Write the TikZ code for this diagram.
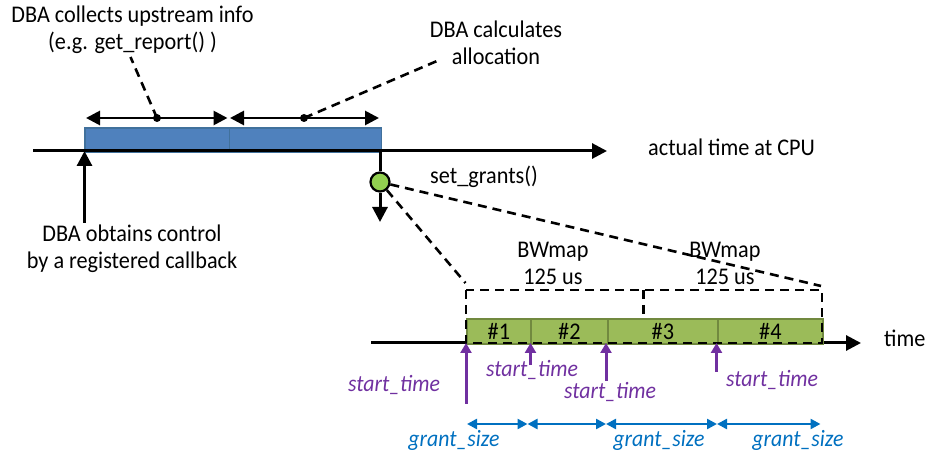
\documentclass[tikz,border=0pt]{standalone}
\usepackage{fontspec}
\setmainfont{Carlito}[FakeStretch=0.93]
\usetikzlibrary{arrows.meta}
\definecolor{barblue}{HTML}{4F81BD}
\definecolor{barblueedge}{HTML}{41719C}
\definecolor{bargreen}{HTML}{9BBB59}
\definecolor{bargreenedge}{HTML}{71893F}
\definecolor{dotgreen}{HTML}{92D050}
\definecolor{stpurple}{HTML}{7030A0}
\definecolor{gsblue}{HTML}{0070C0}
\begin{document}
\begin{tikzpicture}[x=1bp,y=-1bp,
  lbl/.style={font=\fontsize{24}{27}\selectfont, inner sep=0pt, align=center},
  stlbl/.style={font=\fontsize{23.5}{26}\selectfont\itshape, text=stpurple, inner sep=0pt},
  gslbl/.style={font=\fontsize{23.5}{26}\selectfont\itshape, text=gsblue, inner sep=0pt},
  axis/.style={line width=3bp, -{Triangle[length=15bp,width=15bp]}},
  dbl/.style={line width=2.8bp, {Triangle[length=14bp,width=14bp]}-{Triangle[length=14bp,width=14bp]}},
  leader/.style={line width=2.6bp, dash pattern=on 9bp off 6bp},
  blueseg/.style={draw=barblueedge, fill=barblue, line width=1.8bp, inner sep=0pt, anchor=north west, minimum height=24bp},
  greenseg/.style={draw=bargreenedge, fill=bargreen, line width=1.8bp, inner sep=0pt, anchor=north west, minimum height=24.5bp, font=\fontsize{24}{26}\selectfont},
  bdot/.style={circle, fill=black, inner sep=0pt, minimum size=8bp},
  gdot/.style={circle, draw=black, fill=dotgreen, line width=2.2bp, inner sep=0pt, minimum size=19bp},
  starr/.style={line width=3bp, draw=stpurple, -{Triangle[length=10bp,width=11bp]}},
  gsarr/.style={line width=2.4bp, draw=gsblue, {Triangle[length=10bp,width=10bp]}-{Triangle[length=10bp,width=10bp]}},
]
\useasboundingbox (0,0) rectangle (925,454);

% ---- top timeline ----
\coordinate (t1s) at (33,151);
\coordinate (t1e) at (607,151);
\node[blueseg, minimum width=144.5bp] (b1) at (84,127) {};
\node[blueseg, minimum width=152bp] (b2) at (228.5,127) {};
\draw[axis] (t1s) -- (t1e);

% double arrows above the bar
\coordinate (a1s) at (86,118);  \coordinate (a1e) at (227.5,118);
\coordinate (a2s) at (230,118); \coordinate (a2e) at (379,118);
\draw[dbl] (a1s) -- (a1e);
\draw[dbl] (a2s) -- (a2e);
\node[bdot] (d1) at (157,118) {};
\node[bdot] (d2) at (304,118) {};

% texts top
\node[lbl] (collect) at (132.5,30) {DBA collects upstream info\\(e.g. get\_report() )};
\node[lbl] (calc) at (496,42.5) {DBA calculates\\allocation};
\coordinate (l1) at (130.5,57);
\coordinate (l2) at (437,61);
\draw[leader] (d1.center) -- (l1);
\draw[leader] (d2.center) -- (l2);

\node[lbl, anchor=west] (actual) at (648,147) {actual time at CPU};

% control arrow
\coordinate (ctrl) at (84.5,223);
\coordinate (ctrltip) at (84.5,151);
\draw[axis] (ctrl) -- (ctrltip);
\node[lbl] (obtain) at (132,249) {DBA obtains control\\by a registered callback};

% set_grants
\coordinate (barend) at (380,151);
\node[gdot] (sg) at (380,182) {};
\draw[line width=3bp] (barend) -- (sg.north);
\coordinate (sgend) at (380,222);
\draw[axis] (sg.south) -- (sgend);
\node[lbl, anchor=west] (sgtxt) at (430,177) {set\_grants()};

% ---- bottom timeline ----
\coordinate (t2s) at (371,343);
\coordinate (t2e) at (861,343);
\draw[axis] (t2s) -- (t2e);
\node[greenseg, minimum width=64bp] (g1) at (466,318.5) {\#1};
\node[greenseg, minimum width=77bp] (g2) at (530,318.5) {\#2};
\node[greenseg, minimum width=110bp] (g3) at (607,318.5) {\#3};
\node[greenseg, minimum width=105bp] (g4) at (717,318.5) {\#4};
\node[lbl, anchor=west] (time) at (884,338) {time};

% zoom leaders
\coordinate (z1) at (465.5,283);
\coordinate (z2) at (821,286);
\draw[leader] (sg) -- (z1);
\draw[leader] (sg) -- (z2);

% BWmap brackets
\coordinate (bl) at (466,290);
\coordinate (bm) at (643.5,318.5);
\coordinate (br) at (822,343);
\draw[leader] (bl) rectangle (br);
\draw[leader] (643.5,290) -- (bm);
\node[lbl] (bw1) at (553,263.5) {BWmap\\125 us};
\node[lbl] (bw2) at (725,263.5) {BWmap\\125 us};

% start_time arrows
\coordinate (s1) at (466,404); \coordinate (s2) at (530.5,365);
\coordinate (s3) at (606,381); \coordinate (s4) at (716.5,372);
\coordinate (p1) at (466,343); \coordinate (p2) at (530.5,343);
\coordinate (p3) at (606,343); \coordinate (p4) at (716.5,343);
\draw[starr] (s1) -- (p1);
\draw[starr] (s2) -- (p2);
\draw[starr] (s3) -- (p3);
\draw[starr] (s4) -- (p4);
\node[stlbl] (st1) at (394,385) {start\_time};
\node[stlbl] (st2) at (532,370) {start\_time};
\node[stlbl] (st3) at (610,392) {start\_time};
\node[stlbl] (st4) at (772,380) {start\_time};

% grant_size arrows
\coordinate (q0) at (467,424); \coordinate (q1) at (527.5,424);
\coordinate (q2) at (606,424); \coordinate (q3) at (717,424);
\coordinate (q4) at (820.5,424);
\draw[gsarr] (q0) -- (q1);
\draw[gsarr] (q1) -- (q2);
\draw[gsarr] (q2) -- (q3);
\draw[gsarr] (q3) -- (q4);
\node[gslbl] (gs1) at (454,440) {grant\_size};
\node[gslbl] (gs2) at (659,440) {grant\_size};
\node[gslbl] (gs3) at (798,440) {grant\_size};
\end{tikzpicture}
\end{document}
